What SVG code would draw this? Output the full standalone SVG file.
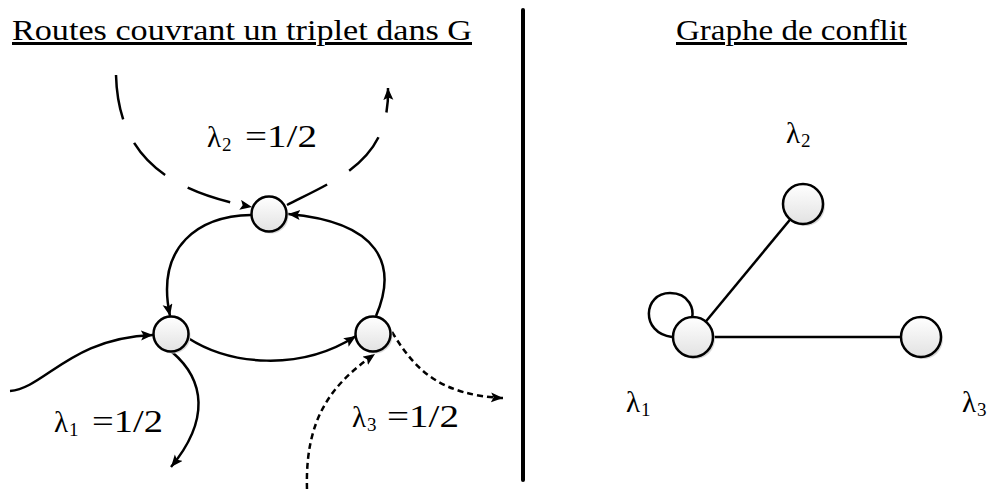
<svg xmlns="http://www.w3.org/2000/svg" width="992" height="489" viewBox="0 0 992 489">
<style>
.t{font-family:"Liberation Serif","DejaVu Serif",serif;fill:#000}
.title{font-size:30px;text-decoration:underline}
.lab{font-size:29px}
.eq{font-size:31px}
.sub{font-size:19px}
.e{fill:none;stroke:#000;stroke-width:2.5}
.dl{stroke-dasharray:45 26}
.ds{stroke-dasharray:6 4}
.n{fill:url(#g);stroke:#000;stroke-width:2.5}
.sh{fill:#d8d8d8}
</style>
<defs>
<linearGradient id="g" x1="0" y1="0" x2="0" y2="1">
<stop offset="0" stop-color="#ffffff"/>
<stop offset="1" stop-color="#e2e2e2"/>
</linearGradient>
<marker id="a" markerUnits="userSpaceOnUse" markerWidth="14" markerHeight="12" refX="12" refY="5" orient="auto">
<path d="M0,0 L12,5 L0,10 L2.5,5 z" fill="#000"/>
</marker>
</defs>

<line x1="523" y1="10" x2="523" y2="480" stroke="#000" stroke-width="4" stroke-linecap="round"/>

<text class="t title" x="12" y="40" textLength="460" lengthAdjust="spacingAndGlyphs">Routes couvrant un triplet dans G</text>
<text class="t title" x="676" y="40" textLength="231" lengthAdjust="spacingAndGlyphs">Graphe de conflit</text>

<g id="connectors">
<path class="e dl" d="M116,75 C118,150 160,190 252,207" marker-end="url(#a)"/>
<path class="e dl" d="M287,205 C340,178 390,160 388,88" marker-end="url(#a)"/>
<path class="e" d="M251,215 C200,216 155,245 170,316" marker-end="url(#a)"/>
<path class="e" d="M376,316 C398,265 380,222 288,214" marker-end="url(#a)"/>
<path class="e" d="M188,338 C230,365 300,372 356,336" marker-end="url(#a)"/>
<path class="e" d="M10,391 C45,388 70,338 153,335" marker-end="url(#a)"/>
<path class="e" d="M172,352 C205,380 210,420 171,467" marker-end="url(#a)"/>
<path class="e ds" d="M307,489 C305,420 330,385 375,354" marker-end="url(#a)"/>
<path class="e ds" d="M392,332 C415,370 440,395 503,398" marker-end="url(#a)"/>
<path class="e" d="M672,337 C640,333 643,293 670,293 C690,293 694,310 692,318"/>
<line class="e" x1="693" y1="337" x2="803" y2="204"/>
<line class="e" x1="693" y1="337" x2="921" y2="337"/>
</g>

<g id="n-top"><circle class="sh" cx="271" cy="216" r="17.5"/><circle class="n" cx="269" cy="214" r="17.5"/></g>
<g id="n-left"><circle class="sh" cx="173" cy="336" r="17.5"/><circle class="n" cx="171" cy="334" r="17.5"/></g>
<g id="n-right"><circle class="sh" cx="375" cy="336" r="17.5"/><circle class="n" cx="373" cy="334" r="17.5"/></g>
<g id="c-l2"><circle class="sh" cx="805" cy="206" r="20"/><circle class="n" cx="803" cy="204" r="20"/></g>
<g id="c-l1"><circle class="sh" cx="695" cy="339" r="20"/><circle class="n" cx="693" cy="337" r="20"/></g>
<g id="c-l3"><circle class="sh" cx="923" cy="339" r="20"/><circle class="n" cx="921" cy="337" r="20"/></g>

<g id="label-l2">
<text class="t lab" x="207" y="147">λ<tspan class="sub" x="222" dy="4">2</tspan></text>
<text class="t eq" x="245" y="147" textLength="72" lengthAdjust="spacingAndGlyphs">=1/2</text>
</g>
<g id="label-l1">
<text class="t lab" x="54" y="432">λ<tspan class="sub" x="69" dy="4">1</tspan></text>
<text class="t eq" x="92" y="432" textLength="71" lengthAdjust="spacingAndGlyphs">=1/2</text>
</g>
<g id="label-l3">
<text class="t lab" x="352" y="427">λ<tspan class="sub" x="367" dy="4">3</tspan></text>
<text class="t eq" x="387" y="427" textLength="72" lengthAdjust="spacingAndGlyphs">=1/2</text>
</g>

<text class="t lab" x="786" y="143">λ<tspan class="sub" x="801" dy="4">2</tspan></text>
<text class="t lab" x="626" y="412">λ<tspan class="sub" x="641" dy="4">1</tspan></text>
<text class="t lab" x="962" y="412">λ<tspan class="sub" x="977" dy="4">3</tspan></text>
</svg>
